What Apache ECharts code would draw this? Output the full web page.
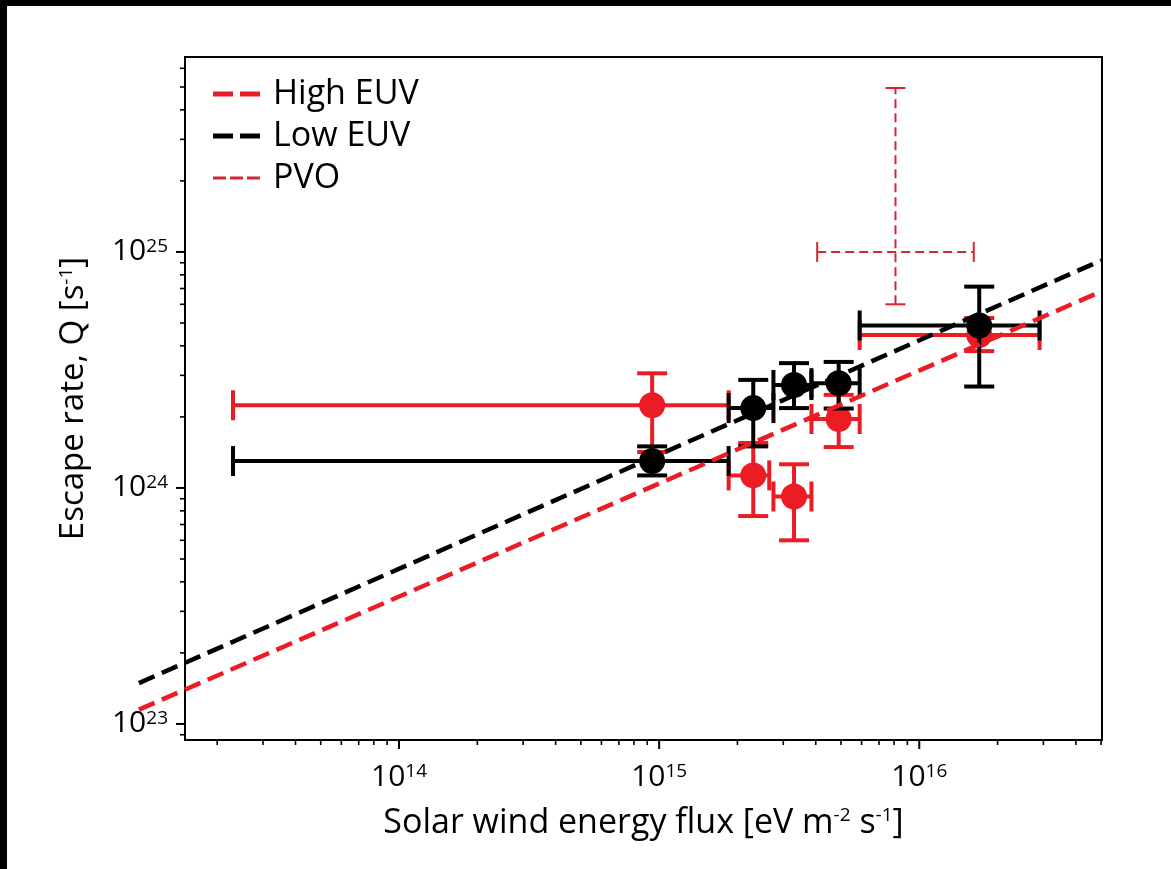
<!DOCTYPE html>
<html>
<head>
<meta charset="utf-8">
<title>Escape rate vs solar wind energy flux</title>
<script src="https://cdn.jsdelivr.net/npm/echarts@6/dist/echarts.min.js"></script>
<style>
  html, body { margin: 0; padding: 0; background: #fff; }
  #chart { width: 1171px; height: 869px; }
</style>
</head>
<body>
<div id="chart"></div>
<script>
// ---- data -------------------------------------------------------------
// Solar wind energy flux bins [eV m^-2 s^-1] (same bin centres for both EUV groups)
const flux = [9.4e14, 2.3e15, 3.3e15, 4.9e15, 1.7e16];

// High EUV: escape rate Q [s^-1] and error ranges
const highFluxLo = [2.3e13, 1.85e15, 2.75e15, 3.85e15, 5.9e15];
const highFluxHi = [1.85e15, 2.65e15, 3.85e15, 5.9e15, 2.9e16];
const highQ      = [2.24e24, 1.13e24, 9.2e23, 1.96e24, 4.45e24];
const highQLo    = [1.42e24, 7.6e23, 6.0e23, 1.49e24, 3.8e24];
const highQHi    = [3.06e24, 1.55e24, 1.26e24, 2.48e24, 5.25e24];

// Low EUV: escape rate Q [s^-1] and error ranges
const lowFluxLo = [2.3e13, 1.85e15, 2.75e15, 3.85e15, 5.9e15];
const lowFluxHi = [1.85e15, 2.75e15, 3.85e15, 5.9e15, 2.9e16];
const lowQ      = [1.30e24, 2.18e24, 2.73e24, 2.78e24, 4.88e24];
const lowQLo    = [1.13e24, 1.50e24, 2.18e24, 2.17e24, 2.69e24];
const lowQHi    = [1.50e24, 2.87e24, 3.38e24, 3.42e24, 7.13e24];

// Pioneer Venus Orbiter estimate
const pvoFlux = [8.1e15];
const pvoFluxLo = [4.05e15];
const pvoFluxHi = [1.62e16];
const pvoQ = [1.0e25];
const pvoQLo = [6.0e24];
const pvoQHi = [4.95e25];

// Power-law fits (end points)
const highFitFlux = [1.0e13, 5.0e16];
const highFitQ    = [1.15e23, 6.8e24];
const lowFitFlux  = [1.0e13, 5.0e16];
const lowFitQ     = [1.49e23, 9.2e24];

// Axis ranges and decade labels (exponents of ten)
const X_MIN = 1.504e13, X_MAX = 5.04e16;
const Y_MIN = 8.55e22,  Y_MAX = 6.7e25;
const xTickExp = [14, 15, 16];
const yTickExp = [23, 24, 25];

// ---- styling ----------------------------------------------------------
const RED = '#ec1c24';
const PVO_RED = '#d62631';
const INK = '#000000';
const FONT = '"Open Sans", "Noto Sans", "DejaVu Sans", sans-serif';

// ---- helpers ----------------------------------------------------------
function zip(cols) {
  return cols[0].map((_, i) => cols.map(c => c[i]));
}

// minor log ticks (2..9 of each decade) inside [lo, hi]
function minorTicks(lo, hi) {
  const out = [];
  for (let e = Math.floor(Math.log10(lo)); e <= Math.ceil(Math.log10(hi)); e++) {
    for (let m = 2; m <= 9; m++) {
      const v = m * Math.pow(10, e);
      if (v >= lo && v <= hi * 1.0001) out.push(v);
    }
  }
  return out;
}

// error bars drawn through the cartesian scales
function errorBarRenderer(color, width, capHalf, dash, capWidth) {
  return function (params, api) {
    const x = api.value(0), y = api.value(1);
    const c = api.coord([x, y]);
    const l = api.coord([api.value(2), y]);
    const r = api.coord([api.value(3), y]);
    const b = api.coord([x, api.value(4)]);
    const t = api.coord([x, api.value(5)]);
    const bar = { stroke: color, lineWidth: width, lineDash: dash || null, fill: null };
    const cap = { stroke: color, lineWidth: capWidth || width, fill: null };
    return {
      type: 'group',
      children: [
        { type: 'line', shape: { x1: l[0], y1: c[1], x2: r[0], y2: c[1] }, style: bar },
        { type: 'line', shape: { x1: c[0], y1: b[1], x2: c[0], y2: t[1] }, style: bar },
        { type: 'line', shape: { x1: l[0], y1: c[1] - capHalf, x2: l[0], y2: c[1] + capHalf }, style: cap },
        { type: 'line', shape: { x1: r[0], y1: c[1] - capHalf, x2: r[0], y2: c[1] + capHalf }, style: cap },
        { type: 'line', shape: { x1: c[0] - capHalf, y1: b[1], x2: c[0] + capHalf, y2: b[1] }, style: cap },
        { type: 'line', shape: { x1: c[0] - capHalf, y1: t[1], x2: c[0] + capHalf, y2: t[1] }, style: cap }
      ]
    };
  };
}

// dashed fit line: one segment from each point to the next, unclipped
function fitRenderer(xs, ys, color) {
  return function (params, api) {
    const i = params.dataIndex;
    if (i >= xs.length - 1) return null;
    const a = api.coord([xs[i], ys[i]]);
    const b = api.coord([xs[i + 1], ys[i + 1]]);
    return {
      type: 'line',
      shape: { x1: a[0], y1: a[1], x2: b[0], y2: b[1] },
      style: { stroke: color, lineWidth: 4.5, lineDash: [17, 8], fill: null }
    };
  };
}

// tick marks and decade labels: [xValue, yValue, isYAxis, isMajor, exponent]
const tickData = [];
xTickExp.forEach(e => tickData.push([Math.pow(10, e), Y_MIN, 0, 1, e]));
minorTicks(X_MIN, X_MAX).forEach(v => tickData.push([v, Y_MIN, 0, 0, 0]));
yTickExp.forEach(e => tickData.push([X_MIN, Math.pow(10, e), 1, 1, e]));
minorTicks(Y_MIN, Y_MAX).forEach(v => tickData.push([X_MIN, v, 1, 0, 0]));

const labelRich = {
  m: { fontSize: 30, fontFamily: FONT, fill: INK },
  e: { fontSize: 19, fontFamily: FONT, fill: INK, verticalAlign: 'top' }
};

function renderTick(params, api) {
  const p = api.coord([api.value(0), api.value(1)]);
  const cs = params.coordSys;
  const isY = api.value(2) === 1;
  const major = api.value(3) === 1;
  const len = major ? 9 : 5;
  const stroke = { stroke: INK, lineWidth: major ? 2 : 1.6 };
  const children = [];
  if (!isY) {
    const yb = cs.y + cs.height;
    children.push({ type: 'line', shape: { x1: p[0], y1: yb, x2: p[0], y2: yb + len }, style: stroke });
    if (major) {
      children.push({
        type: 'text', x: p[0], y: yb + 22,
        style: { text: '{m|10}{e|' + api.value(4) + '}', rich: labelRich, align: 'center', verticalAlign: 'top' }
      });
    }
  } else {
    const xl = cs.x;
    children.push({ type: 'line', shape: { x1: xl - len, y1: p[1], x2: xl, y2: p[1] }, style: stroke });
    if (major) {
      children.push({
        type: 'text', x: xl - 17, y: p[1],
        style: { text: '{m|10}{e|' + api.value(4) + '}', rich: labelRich, align: 'right', verticalAlign: 'middle' }
      });
    }
  }
  return { type: 'group', children: children };
}

// ---- chart ------------------------------------------------------------
const chart = echarts.init(document.getElementById('chart'), null, { renderer: 'canvas' });

const nameRich = {
  sup: { fontSize: 19, fontFamily: FONT, color: INK, verticalAlign: 'top' }
};

chart.setOption({
  animation: false,
  backgroundColor: '#ffffff',
  grid: {
    left: 185, top: 57, right: 69, bottom: 129,
    show: true, borderColor: INK, borderWidth: 2, backgroundColor: 'transparent'
  },
  xAxis: {
    type: 'log', logBase: 10, min: X_MIN, max: X_MAX,
    axisLine: { lineStyle: { color: INK, width: 2 } },
    axisTick: { show: false }, axisLabel: { show: false }, splitLine: { show: false },
    name: 'Solar wind energy flux [eV m{sup|-2} s{sup|-1}]',
    nameLocation: 'middle', nameGap: 66,
    nameTextStyle: { fontSize: 34, fontFamily: FONT, color: INK, rich: nameRich }
  },
  yAxis: {
    type: 'log', logBase: 10, min: Y_MIN, max: Y_MAX,
    axisLine: { lineStyle: { color: INK, width: 2 } },
    axisTick: { show: false }, axisLabel: { show: false }, splitLine: { show: false },
    name: 'Escape rate, Q [s{sup|-1}]',
    nameLocation: 'middle', nameGap: 95,
    nameTextStyle: { fontSize: 33, fontFamily: FONT, color: INK, rich: nameRich }
  },
  legend: {
    orient: 'vertical', left: 208, top: 72,
    itemWidth: 47, itemHeight: 5, itemGap: 8,
    selectedMode: false,
    textStyle: { fontSize: 34, fontFamily: FONT, color: INK, padding: [0, 0, 0, 8] },
    data: [
      { name: 'High EUV', icon: 'path://M0,0H20V5H0Z M27,0H47V5H27Z', itemStyle: { color: RED } },
      { name: 'Low EUV', icon: 'path://M0,0H20V5H0Z M27,0H47V5H27Z', itemStyle: { color: INK } },
      { name: 'PVO', icon: 'path://M0,0H13V3H0Z M17,0H30V3H17Z M34,0H47V3H34Z', itemStyle: { color: PVO_RED } }
    ]
  },
  graphic: [
    // dark frame strips along the top and left edges of the figure
    { type: 'rect', shape: { x: 0, y: 0, width: 1171, height: 6 }, style: { fill: '#000' }, z: 100 },
    { type: 'rect', shape: { x: 0, y: 0, width: 7, height: 869 }, style: { fill: '#000' }, z: 100 }
  ],
  series: [
    {
      name: 'High EUV bars', type: 'custom', silent: true,
      renderItem: errorBarRenderer(RED, 4, 15),
      encode: { x: 0, y: 1 },
      data: zip([flux, highQ, highFluxLo, highFluxHi, highQLo, highQHi]),
      z: 3
    },
    {
      name: 'High EUV data', type: 'scatter', silent: true,
      symbolSize: 26, itemStyle: { color: RED, opacity: 1 },
      data: zip([flux, highQ]),
      z: 4
    },
    {
      name: 'Low EUV bars', type: 'custom', silent: true,
      renderItem: errorBarRenderer(INK, 4, 15),
      encode: { x: 0, y: 1 },
      data: zip([flux, lowQ, lowFluxLo, lowFluxHi, lowQLo, lowQHi]),
      z: 5
    },
    {
      name: 'Low EUV data', type: 'scatter', silent: true,
      symbolSize: 26, itemStyle: { color: INK, opacity: 1 },
      data: zip([flux, lowQ]),
      z: 6
    },
    {
      name: 'PVO', type: 'custom', silent: true,
      itemStyle: { color: PVO_RED },
      renderItem: errorBarRenderer(PVO_RED, 2, 10, [9, 5], 2),
      encode: { x: 0, y: 1 },
      data: zip([pvoFlux, pvoQ, pvoFluxLo, pvoFluxHi, pvoQLo, pvoQHi]),
      z: 6
    },
    {
      name: 'High EUV', type: 'custom', silent: true, clip: false,
      itemStyle: { color: RED },
      renderItem: fitRenderer(highFitFlux, highFitQ, RED),
      encode: { x: 0, y: 1 },
      data: zip([highFitFlux, highFitQ]),
      z: 7
    },
    {
      name: 'Low EUV', type: 'custom', silent: true, clip: false,
      itemStyle: { color: INK },
      renderItem: fitRenderer(lowFitFlux, lowFitQ, INK),
      encode: { x: 0, y: 1 },
      data: zip([lowFitFlux, lowFitQ]),
      z: 7
    },
    {
      name: 'ticks', type: 'custom', silent: true,
      renderItem: renderTick,
      encode: { x: 0, y: 1 },
      data: tickData,
      z: 8
    }
  ]
});
</script>
</body>
</html>
